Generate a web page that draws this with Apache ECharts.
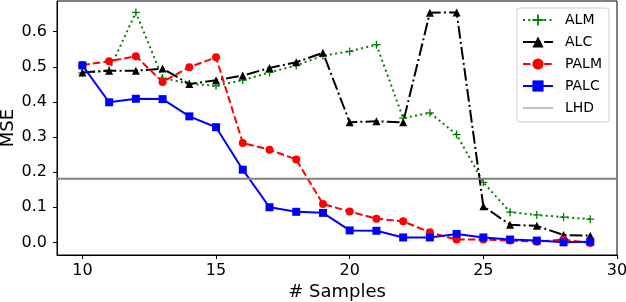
<!DOCTYPE html>
<html>
<head>
<meta charset="utf-8">
<script src="https://cdn.jsdelivr.net/npm/echarts@6/dist/echarts.min.js"></script>
<style>html,body{margin:0;padding:0;background:#fff}#c{width:626px;height:302px}</style>
</head>
<body>
<div id="c"></div>
<script>
var samples = [10,11,12,13,14,15,16,17,18,19,20,21,22,23,24,25,26,27,28,29];
var alm  = [0.483,0.490,0.655,0.468,0.452,0.446,0.462,0.484,0.504,0.532,0.544,0.563,0.354,0.369,0.307,0.171,0.086,0.078,0.072,0.066];
var alc  = [0.484,0.489,0.489,0.495,0.451,0.462,0.475,0.497,0.513,0.540,0.342,0.345,0.342,0.654,0.655,0.103,0.050,0.047,0.021,0.019];
var palm = [0.505,0.516,0.530,0.457,0.499,0.527,0.283,0.264,0.236,0.109,0.088,0.0675,0.060,0.0285,0.008,0.008,0.005,0.002,0.008,-0.002];
var palc = [0.504,0.399,0.409,0.408,0.359,0.328,0.207,0.100,0.087,0.084,0.034,0.033,0.014,0.014,0.024,0.014,0.008,0.005,0.000,0.002];
var lhd = 0.181;
var xRange = [9.05, 30];
var yRange = [-0.036, 0.6875];
var xTicks = [10,15,20,25,30];
var yTicks = [0,0.1,0.2,0.3,0.4,0.5,0.6];

function pairs(ys){ return samples.map(function(x,i){ return [x, ys[i]]; }); }
var FONT = 'DejaVu Sans';
var plus = 'path://M4.2,0H5.8V4.2H10V5.8H5.8V10H4.2V5.8H0V4.2H4.2Z';

var chart = echarts.init(document.getElementById('c'), null, {renderer:'canvas'});
chart.setOption({
  animation:false,
  textStyle:{fontFamily:FONT},
  grid:{left:57,right:9,top:1,bottom:47,containLabel:false,outerBoundsMode:'none',
        show:true,borderColor:'#000',borderWidth:1,backgroundColor:'transparent'},
  legend:{
    left:517, top:8, orient:'vertical',
    padding:[5,7,7,5],
    itemWidth:30, itemHeight:14, itemGap:8,
    backgroundColor:'rgba(255,255,255,0.85)', borderColor:'#cccccc', borderWidth:1, borderRadius:3,
    textStyle:{fontFamily:FONT,fontSize:14,color:'#000',padding:[0,0,0,7]},
    data:['ALM','ALC','PALM','PALC',
      {name:'LHD', itemStyle:{color:'rgba(0,0,0,0)',borderColor:'rgba(0,0,0,0)',borderWidth:0,opacity:0},
       lineStyle:{width:1}}]
  },
  xAxis:{
    type:'value', min:xRange[0], max:xRange[1],
    name:'# Samples', nameLocation:'middle', nameGap:28, nameMoveOverlap:false,
    nameTextStyle:{fontFamily:FONT,fontSize:18,color:'#000'},
    axisLine:{show:true,onZero:false,lineStyle:{color:'#000',width:1}},
    axisTick:{show:true,length:4,inside:false,customValues:xTicks,lineStyle:{color:'#000'}},
    axisLabel:{customValues:xTicks,fontFamily:FONT,fontSize:16,color:'#000',margin:8},
    splitLine:{show:false}
  },
  yAxis:{
    type:'value', min:yRange[0], max:yRange[1],
    name:'MSE', nameLocation:'middle', nameGap:40, nameMoveOverlap:false,
    nameTextStyle:{fontFamily:FONT,fontSize:18,color:'#000'},
    axisLine:{show:true,onZero:false,lineStyle:{color:'#000',width:1}},
    axisTick:{show:true,length:4,inside:false,customValues:yTicks,lineStyle:{color:'#000'}},
    axisLabel:{customValues:yTicks,fontFamily:FONT,fontSize:16,color:'#000',margin:10,
      formatter:function(v){return v.toFixed(1);}},
    splitLine:{show:false}
  },
  series:[
    {name:'ALM',type:'line',data:pairs(alm),symbol:plus,symbolSize:8,showAllSymbol:true,
     lineStyle:{color:'#008000',width:2,type:[2,3.3]},itemStyle:{color:'#008000'},z:2},
    {name:'ALC',type:'line',data:pairs(alc),symbol:'triangle',symbolSize:8,showAllSymbol:true,
     lineStyle:{color:'#000000',width:2,type:[12.8,3.2,2,3.2]},itemStyle:{color:'#000000'},z:3},
    {name:'PALM',type:'line',data:pairs(palm),symbol:'circle',symbolSize:8,showAllSymbol:true,
     lineStyle:{color:'#ff0000',width:2,type:[7.4,3.2]},itemStyle:{color:'#ff0000'},z:4},
    {name:'PALC',type:'line',data:pairs(palc),symbol:'rect',symbolSize:8,showAllSymbol:true,
     lineStyle:{color:'#0000ff',width:2},itemStyle:{color:'#0000ff'},z:5},
    {name:'LHD',type:'line',data:[[xRange[0],lhd],[xRange[1],lhd]],symbol:'none',silent:true,
     lineStyle:{color:'#808080',width:2},itemStyle:{color:'#808080'},z:6}
  ]
});
</script>
</body>
</html>
